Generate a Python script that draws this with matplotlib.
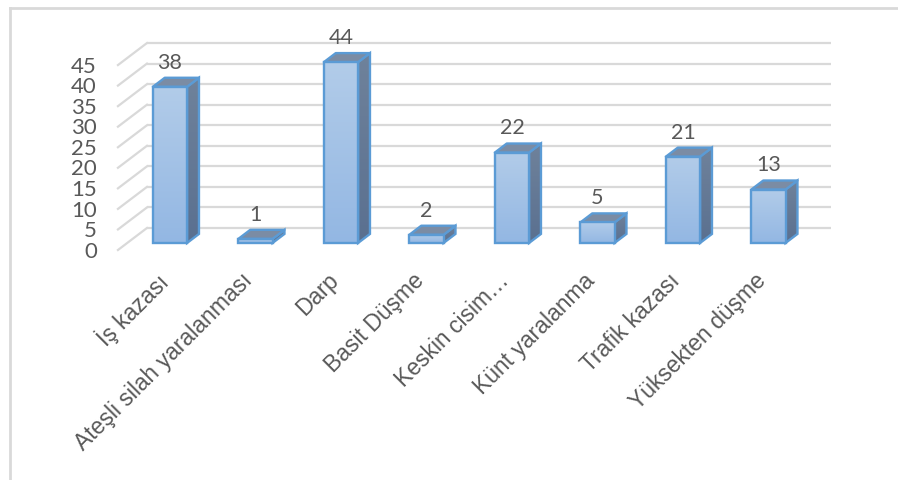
import numpy as np
import matplotlib.pyplot as plt
from matplotlib.patches import Polygon
from matplotlib.lines import Line2D

categories = ['İş kazası', 'Ateşli silah yaralanması', 'Darp', 'Basit Düşme',
              'Keskin cisim…', 'Künt yaralanma', 'Trafik kazası', 'Yüksekten düşme']
values = [38, 1, 44, 2, 22, 5, 21, 13]
yticks = [0, 5, 10, 15, 20, 25, 30, 35, 40, 45]

W, H = 898, 480
fig = plt.figure(figsize=(W / 100, H / 100), dpi=100)
ax = fig.add_axes([0, 0, 1, 1])
ax.set_axis_off()

# pixel layout of the oblique "3D" frame
px_cat = 85.5      # px per category
px_val = 4.11      # px per value unit
x0_px, y0_px = 160.7, 250   # category 0 / value 0 on the front plane

# depth vector (front -> back wall) in data units
ddx, ddy = 29 / px_cat, 22 / px_val
bar_d0, bar_d1 = 0.32, 0.73   # bar occupies this part of the depth
half_w = 0.2

grid_c = '#d9d9d9'
text_c = '#595959'
n = len(categories)

# back wall grid + left wall diagonals
for v in yticks:
    ax.plot([-0.5 + ddx, n - 0.5 + ddx], [v + ddy, v + ddy], color=grid_c, lw=1.6, zorder=1,
            solid_capstyle='butt')
    ax.plot([-0.5, -0.5 + ddx], [v, v + ddy], color=grid_c, lw=1.6, zorder=1)
    ax.text(-0.745, v - 0.4, str(v), ha='right', va='center', fontsize=16,
            family='Lato', color=text_c)

# gradient image for the faces
grad = np.linspace(0, 1, 256).reshape(-1, 1)
front_cmap = plt.matplotlib.colors.LinearSegmentedColormap.from_list('f', ['#93b7e3', '#b2cce9'])
side_cmap = plt.matplotlib.colors.LinearSegmentedColormap.from_list('s', ['#5a7090', '#6f829b'])
edge_c = '#5b9bd5'

for i, v in enumerate(values):
    fx, fy = i + bar_d0 * ddx, bar_d0 * ddy
    bx, by = (bar_d1 - bar_d0) * ddx, (bar_d1 - bar_d0) * ddy
    xl, xr = fx - half_w, fx + half_w
    yb, yt = fy, fy + v
    front = [(xl, yb), (xr, yb), (xr, yt), (xl, yt)]
    side = [(xr, yb), (xr + bx, yb + by), (xr + bx, yt + by), (xr, yt)]
    top = [(xl, yt), (xr, yt), (xr + bx, yt + by), (xl + bx, yt + by)]

    sp = Polygon(side, closed=True, facecolor='none', edgecolor=edge_c, lw=1.7, zorder=3 + i)
    ax.add_patch(sp)
    im = ax.imshow(grad, cmap=side_cmap, aspect='auto', origin='lower',
                   extent=(xr, xr + bx, yb, yt + by), zorder=2.9 + i)
    im.set_clip_path(sp)
    ax.add_patch(Polygon(top, closed=True, facecolor='#7b8ca4', edgecolor=edge_c, lw=1.7,
                         zorder=3 + i, joinstyle='round'))
    fp = Polygon(front, closed=True, facecolor='none', edgecolor=edge_c, lw=1.7, zorder=3.2 + i)
    ax.add_patch(fp)
    im2 = ax.imshow(grad, cmap=front_cmap, aspect='auto', origin='lower',
                    extent=(xl, xr, yb, yt), zorder=3.1 + i)
    im2.set_clip_path(fp)

    # value label above the bar
    ax.text(fx, yt + 5.85, str(v), ha='center', va='center', fontsize=15.5,
            family='Lato', color=text_c, zorder=20)

    # category label
    ax.text(i - 0.06, -4.6, categories[i], rotation=45, rotation_mode='anchor',
            ha='right', va='top', fontsize=16.5, family='Liberation Sans', color=text_c)

ax.set_xlim((0 - x0_px) / px_cat, (W - x0_px) / px_cat)
ax.set_ylim((y0_px - H) / px_val, y0_px / px_val)

# chart area border (only top and left visible in the crop)
fig.add_artist(Line2D([9.5 / W, 9.5 / W], [0, 1 - 7.5 / H], color=grid_c, lw=2,
                      transform=fig.transFigure))
fig.add_artist(Line2D([9.5 / W, 1], [1 - 7.5 / H, 1 - 7.5 / H], color=grid_c, lw=2,
                      transform=fig.transFigure))

fig.savefig('out.png', dpi=100)
